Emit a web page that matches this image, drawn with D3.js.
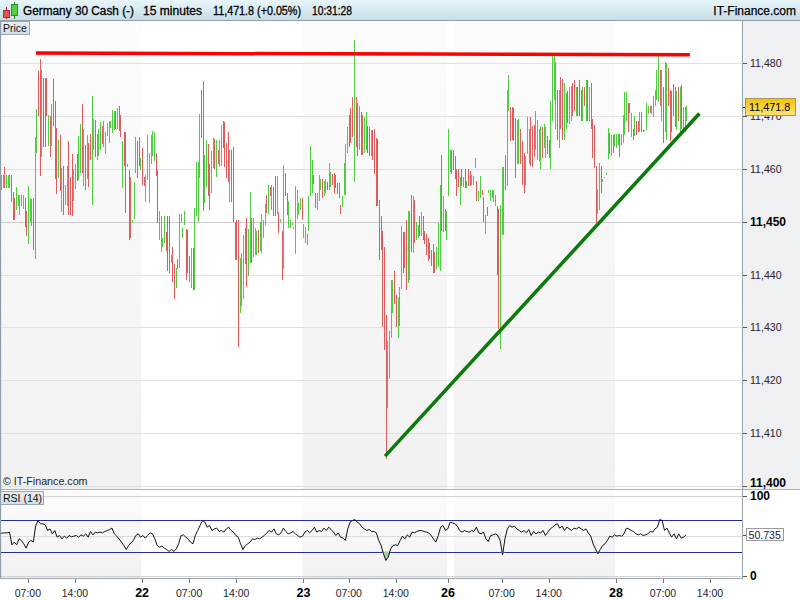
<!DOCTYPE html>
<html><head><meta charset="utf-8">
<script src="https://cdn.jsdelivr.net/npm/d3@7"></script>
<style>
html,body{margin:0;padding:0;background:#fff;}
svg{display:block;font-family:"Liberation Sans",Arial,sans-serif;}
</style></head><body>
<svg id="chart" width="800" height="600"></svg>
<script>
// ---- DATA: 15-minute candles [open, high, low, close] ----
const day21 = [
[11456.5,11458.9,11456,11458.5],[11457,11458.8,11456.3,11458],[11458.5,11460.4,11456.3,11457],[11456.5,11458.9,11456.3,11458.5],
[11456.5,11458.9,11456.3,11458.5],[11457,11458.9,11456.3,11458.5],[11458.5,11458.9,11453.7,11454],[11455,11455.6,11450.4,11451],
[11454,11454.5,11450.4,11451.5],[11452.5,11456.6,11452.2,11456],[11453.5,11455,11453,11455],[11452,11455,11451.3,11455],
[11453,11455,11453,11455],[11453,11455,11452.5,11454.5],[11454,11454.5,11449,11450],[11451.5,11452,11447.2,11448],
[11447,11456.8,11445.8,11455],[11451,11454.5,11450,11454.5],[11450.5,11454.3,11449.2,11453],[11453,11454.4,11444.7,11446],
[11446,11466,11442.9,11464],[11464,11471.4,11463,11471],[11478,11478.6,11470,11471],[11476,11480.8,11458.7,11461],
[11462.3,11478.7,11462.3,11478],[11477,11477.2,11464.2,11467],[11476,11477.2,11464.2,11466],[11477,11477.2,11470,11470],
[11465,11470.2,11464.4,11470],[11469,11470,11462.2,11463],[11464.4,11472.3,11464.4,11472],[11476,11477,11468.1,11469],
[11470,11472.9,11458,11459],[11466,11467.8,11455.3,11456.5],[11459,11465.5,11458.2,11465],[11465,11466.4,11455.9,11457],
[11453,11460.1,11451.9,11459],[11459,11460.5,11451.3,11453],[11453.5,11457,11453.2,11457],[11454,11460.5,11453,11460],
[11464,11465.2,11451.3,11453],[11457,11458.4,11451.3,11452],[11460,11462.8,11451.1,11455],[11455,11460,11454,11459],
[11457,11461,11456.2,11461],[11462,11462.8,11457.8,11458],[11458,11466.2,11457.9,11466],[11460,11468.5,11459.2,11468],
[11471,11472.3,11459.3,11461],[11458,11467.5,11456.7,11466],[11463,11464.5,11456,11457],[11459,11466.5,11458,11466],
[11464,11465,11456.5,11457],[11466,11466.7,11461.7,11462],[11462,11473.8,11453.2,11471],[11464,11469.5,11463.5,11469],
[11469,11469.3,11462.3,11465],[11463,11466.7,11461.7,11466],[11464,11467.5,11462.5,11467],[11465,11468.8,11463.6,11468],
[11468,11468.2,11464.7,11466],[11466,11469,11464.2,11469],[11464,11467,11462.9,11467],[11466.2,11468.6,11466.2,11468],
[11467,11469,11465,11469],[11468,11469,11467.8,11469],[11467,11471.2,11466.8,11471],[11468,11471,11467.4,11471],
[11471,11471,11467.6,11468],[11468,11471.5,11467.6,11471.5],[11471.5,11471.9,11467.2,11468],[11469.5,11470.2,11466,11466],
[11458,11465.2,11456.3,11465],[11467,11467,11460.6,11461],[11466,11467,11451.6,11460],[11460.5,11461,11460.3,11461],
[11459,11459.8,11446.6,11447],[11458,11458.5,11446.9,11447.5],[11450,11450.3,11449.8,11450.2],[11451,11457.6,11450.6,11457],
[11459.5,11466,11459.2,11465],[11465,11465.2,11458.2,11459],[11466,11466.1,11460.6,11461],[11460,11462,11459.7,11462]
];
const day22 = [
[11463,11463.9,11457,11458],[11458,11458.5,11456.8,11457],[11454,11458.9,11453.7,11458],[11458,11466.4,11457.9,11466],
[11455,11463,11453.5,11462],[11462,11466.5,11461,11466],[11465,11467.1,11462.5,11467],[11465,11467,11461.5,11466.5],
[11463,11463,11458.7,11459],[11459.7,11459.7,11449.7,11450],[11447,11452.1,11446.5,11452],[11447,11451.1,11444.3,11450],
[11445.5,11447,11445.2,11447],[11446,11451,11446,11450.5],[11447,11448,11444.4,11445],[11446,11451,11440.6,11443],
[11447,11451,11440.3,11442],[11442.2,11443.7,11442.2,11443.5],[11444,11445.3,11438.5,11439],[11442,11442,11435.3,11437.5],
[11439.5,11441.2,11437.5,11441],[11443,11443,11441,11441.2],[11441.5,11451.5,11441.2,11450.5],[11449.8,11451.5,11449.8,11451.5],
[11446.9,11448.8,11446.9,11448.5],[11449.3,11452,11449.3,11451.5],[11448,11448.6,11439,11440],[11447,11448.5,11440.3,11441],
[11443.5,11443.5,11438.6,11440],[11438,11445,11437.5,11444],[11444,11445,11437,11438],[11438,11452.6,11437.1,11451],
[11451,11461.3,11451,11460],[11452,11461.3,11449.9,11460],[11459,11470.4,11458.2,11469],[11474,11475,11465.8,11466],
[11476,11476.7,11452.1,11455],[11454,11462.6,11453.5,11462],[11457,11465.5,11456.5,11465],[11464,11464.7,11454.8,11456],
[11460,11461,11452.2,11454],[11456,11463.3,11455.5,11463],[11461,11465.8,11460.1,11465],[11465,11465.6,11460,11461],
[11461,11465.5,11458.5,11465],[11463,11463.6,11461,11461.5],[11461,11465.5,11460.4,11465],[11461,11468.3,11460.6,11467],
[11468,11469,11463.9,11464.5],[11468.5,11468.8,11460.3,11462],[11464,11464.9,11458.2,11458.5],[11466,11467,11457.6,11458],
[11455,11463.6,11453.8,11459.5],[11461,11463.6,11453.8,11455],[11457,11464.2,11450,11451],[11449.5,11449.9,11442.7,11443],
[11449,11450.4,11442.7,11443.5],[11450,11450.4,11426.3,11440],[11433,11443.1,11432.8,11442.5],[11435,11444,11434,11443],
[11437,11447.5,11435.3,11447],[11448,11448.8,11441.9,11442.5],[11450,11450.7,11437.6,11439],[11440,11448.7,11439.8,11448.5],
[11443,11455.6,11442.2,11450],[11450,11450.7,11442.2,11443],[11444,11450.7,11443.3,11450],[11445,11448.9,11443.6,11448.5],
[11445,11448.2,11443.6,11448],[11448,11448.5,11444,11444.5],[11445,11450,11444.5,11449.5],[11444,11451.4,11444,11451],
[11447,11450.3,11446.9,11450],[11450,11453.3,11449.3,11453],[11454.5,11455,11451.6,11452],[11451.5,11457,11451.5,11456],
[11456.5,11456.6,11454.9,11455],[11452.3,11457,11452.3,11456],[11456,11456.6,11451.1,11452],[11458,11458.7,11451.1,11453],
[11452,11458.7,11451.5,11458],[11451.5,11451.9,11447.8,11448],[11450,11450.6,11449.9,11450.5],[11448,11448.2,11438.9,11442],
[11447,11460.8,11441,11459],[11459,11459.2,11454.8,11455],[11455,11455.5,11451.3,11452],[11449,11454,11448.8,11453],
[11449,11450.4,11448.8,11450],[11449.5,11449.8,11449.4,11449.7],[11448.7,11449,11448.6,11449],[11446,11456.7,11443.9,11455],
[11450.5,11456,11450.5,11455.5],[11451.5,11453.5,11451.3,11453],[11453,11454.5,11452.3,11454.3],[11454.5,11454.5,11450.4,11451]
];
const day23 = [
[11447,11449.5,11447,11449],[11446,11449,11446,11448.5],[11445.6,11447.7,11445.6,11447.3],[11448.5,11454.9,11448.2,11454],
[11455,11464.4,11454.9,11464],[11457,11461.6,11455.5,11461],[11458,11458.9,11457.2,11457.5],[11455.5,11455.5,11452.6,11453],
[11452.5,11455.5,11452.2,11455],[11455,11458.9,11454,11458],[11456,11458.1,11456,11458],[11458,11458.1,11454.5,11455],
[11454.8,11457.7,11454.8,11457.5],[11456,11458.1,11455.5,11458],[11457.5,11457.6,11456,11456.5],[11456,11461.2,11456,11461],
[11457,11459.5,11456.5,11459],[11459,11459,11456.9,11457],[11459,11459.3,11455.4,11456],[11458,11458.9,11456.4,11456.5],
[11457,11457.4,11455.3,11455.5],[11457,11457.3,11454.5,11455],[11453,11453.1,11451.5,11451.6],[11452.7,11454.8,11452.7,11454.6],
[11455.5,11461.2,11455.1,11460],[11456,11464.7,11455.1,11464],[11463,11467.9,11463,11467.5],[11470,11470.2,11464.2,11465],
[11471,11471.5,11464.9,11466],[11472,11473.6,11466,11467],[11466,11484.4,11457.6,11472],[11473,11473.6,11464.1,11465],
[11472.5,11472.5,11462.5,11463],[11464,11471.9,11463.6,11471],[11470.5,11470.8,11462.6,11463],[11470,11470.2,11462.6,11463.5],
[11463,11469.9,11463,11469],[11464,11470.7,11463.6,11470.5],[11468,11468.2,11463.1,11464],[11468,11468,11462.4,11463],
[11462.5,11467.3,11462.5,11467],[11467,11467.3,11461.6,11462],[11467,11467.5,11459,11460],[11465.5,11465.8,11453,11459],
[11462,11465.6,11453,11454],[11454,11454.1,11442.7,11444],[11450,11451,11444.6,11446],[11446,11448.2,11430.1,11432],
[11445,11445.3,11425.7,11428],[11430,11432.3,11405.1,11420],[11418,11427.5,11414.8,11427],[11420.2,11429.3,11420.2,11429],
[11428,11438.9,11427.9,11438],[11433,11439,11432.7,11438.5],[11440,11440.6,11434.5,11435],[11436,11436.2,11430,11432],
[11428.5,11435.8,11428,11434],[11430.2,11437.6,11430.2,11437],[11437.5,11449.2,11437.3,11448],[11447.5,11448,11440.2,11441],
[11448,11448.1,11441.3,11442],[11448,11450.4,11437,11438],[11441,11452,11438.3,11451],[11443,11452,11439,11451.5],
[11453,11455,11444.3,11446],[11447,11454.9,11444,11454],[11453.5,11454.1,11445.9,11446.5],[11447,11450,11446.5,11449.5],
[11447.5,11449.4,11447,11449],[11450.5,11451,11447.3,11448],[11448,11451.9,11447.3,11451.5],[11450,11451,11446.5,11447],
[11448,11448.2,11445.8,11446],[11447,11447.7,11443.6,11444],[11447,11447,11442.5,11443],[11445,11446,11442.9,11443.5],
[11444,11444.6,11441.7,11442],[11445,11445.7,11440.3,11441],[11443,11444.2,11440.2,11440.5],[11441,11445.2,11441,11445],
[11442,11449.8,11441.5,11449],[11442,11456.9,11440.7,11455],[11458,11462.6,11448.2,11453],[11450,11454.9,11448,11453],
[11452,11452.5,11448.2,11449],[11447,11452,11446.5,11451]
];
const day26 = [
[11455,11467.5,11454.8,11466],[11462.5,11463.5,11459.5,11463],[11463,11463.5,11459,11460],[11463.5,11463.5,11459.7,11460],
[11462,11462.5,11458,11459],[11459.5,11460,11454.8,11456],[11459.5,11460,11456.5,11457],[11454,11458.5,11453.2,11458],
[11460,11460,11456.7,11457],[11456.7,11458.5,11456.5,11458.5],[11459.5,11460,11456.4,11457],[11456.5,11457.8,11456.3,11457.5],
[11460,11460,11456.7,11457],[11459,11459.6,11456.7,11457],[11457,11458.9,11457,11458.7],[11457,11458.7,11457,11458.5],
[11460.1,11462,11460.1,11462],[11457,11457.7,11454,11454.5],[11454,11455.9,11454,11455.8],[11455.5,11458.7,11454.5,11458.5],
[11456,11456,11455,11455.2],[11454.5,11454.7,11449.9,11450.5],[11447.7,11451.3,11447.7,11451],[11452,11452.8,11451,11451.2],
[11455.5,11456,11455.4,11455.8],[11454,11456,11454,11455.8],[11454.5,11456,11454.5,11455.5],[11454,11456,11453.8,11455.8],
[11453,11455,11453,11454.5],[11453,11453,11440,11441],[11445,11452.5,11429.7,11432],[11430,11453.1,11425.8,11452],
[11449,11460.4,11447.4,11458],[11450,11460.4,11447.4,11459],[11462,11462.6,11456,11457],[11457,11475,11456.7,11474],
[11472,11477.8,11471,11477],[11471.5,11471.8,11465.2,11466],[11471,11471.8,11465.5,11466],[11471,11471.5,11465.2,11466],
[11469,11469.6,11458.2,11460],[11461,11469.3,11461,11469],[11462,11469.5,11461,11468],[11467,11467.6,11461,11462],
[11465,11465.2,11457,11458],[11463,11463.1,11455.4,11456],[11457,11462.5,11456.9,11462],[11463,11469.8,11462.8,11469.5],
[11462,11467.5,11461,11467],[11469,11469.8,11460.5,11461],[11467,11468.1,11460.3,11461],[11467.5,11468.4,11462.2,11463],
[11463.6,11471,11463.6,11470.5],[11462.5,11469.3,11461.7,11467],[11462,11467.6,11461.5,11467],[11462,11468.2,11460,11467.5],
[11467,11467.9,11462,11463],[11464,11468.5,11463.9,11468.4],[11463,11468,11462,11467.5],[11466,11466.2,11462.9,11463],
[11465,11465.5,11462,11462.5],[11461,11472.9,11460,11472],[11473,11481.9,11469,11480],[11473.1,11481.9,11473.1,11481.5],
[11470,11480.3,11467.5,11479],[11475,11475,11465.5,11467],[11464,11475,11464,11474.5],[11477,11477.5,11467.5,11468],
[11476,11477,11465.5,11466],[11466,11476.3,11465.5,11476],[11468,11474.4,11467.6,11474],[11474.5,11474.8,11468.6,11469],
[11469,11475.5,11468.5,11475],[11469,11475.7,11469,11475],[11476,11476.3,11470,11470.5],[11476.5,11476.8,11471,11472],
[11471,11475.5,11470,11475.3],[11475,11475.5,11470,11471],[11476.5,11476.8,11470,11471],[11475,11475,11469,11470],
[11470,11475.5,11469,11475],[11475.5,11475.5,11472,11473],[11470,11476.8,11469,11476.5],[11476.5,11476.8,11469,11470],
[11469.5,11475.5,11469,11475],[11475.5,11476.2,11467.5,11468],[11469,11469.5,11462,11463],[11467.5,11468.4,11460.2,11461],
[11460.5,11460.5,11449.7,11451],[11452,11456.2,11451.5,11455.5],[11453,11461.2,11452.2,11460],[11460,11460.6,11455.4,11456],
[11457.5,11458,11457.5,11458],[11458.3,11458.5,11458.2,11458.4],[11459,11459.3,11458.8,11459.2],[11462,11467.7,11461.8,11467],
[11466.5,11466.8,11462.9,11463.5],[11463,11466.5,11462.5,11466],[11466.5,11466.5,11463,11463.5],[11464.3,11466.6,11464.3,11466]
];
const day28 = [
[11464,11466.6,11464,11466],[11465,11466.6,11464.6,11466.5],[11466,11466.6,11462.3,11463],[11464.5,11466.6,11464.5,11466.5],
[11466,11470.3,11465,11470],[11467,11474.6,11466.5,11474],[11469.5,11474.6,11469,11474],[11472,11472.5,11467,11468],
[11472,11472.5,11470.5,11470.7],[11467,11470.5,11466,11470],[11467.5,11467.5,11465.4,11465.5],[11467,11470,11466.2,11469.5],
[11469,11469,11466.5,11467],[11469,11469,11467,11467.3],[11467,11470.7,11467,11470.5],[11470.5,11470.7,11467,11467.2],
[11467.4,11467.4,11467,11467.1],[11467.3,11467.4,11467.2,11467.35],[11467.5,11472.5,11467.4,11472],[11470.5,11472,11470.4,11471.8],
[11472,11472,11470.5,11470.6],[11470.5,11472,11470.4,11471.9],[11470,11473.8,11469.8,11473.5],[11472,11475,11472,11474.8],
[11474,11478.8,11473,11478.5],[11473,11481.6,11472.6,11481],[11478.8,11478.8,11472,11472.5],[11471,11478.7,11469,11478.5],
[11475.5,11475.6,11465,11466],[11468,11480.2,11467,11480],[11470,11480,11465.5,11479.5],[11479,11479.1,11472,11473],
[11475,11475,11465.2,11466],[11474.7,11474.7,11467,11468],[11476,11476,11470,11471],[11475.5,11475.5,11468,11469],
[11467.3,11474.8,11467.3,11474.5],[11475.5,11475.5,11469,11470],[11467.5,11475.5,11467,11475],[11475.8,11475.8,11467.5,11468],
[11468,11471.7,11467.5,11471.5],[11468,11471.7,11467,11471.5],[11470,11471.9,11469,11471.8]
];

// RSI (14), evenly spaced from the first candle to the last
const rsiValues = [
52.9,52.9,53.3,53.3,54.2,38.3,41.7,38.3,45.8,43.75,39.6,34.2,41.7,43.75,42,62.5,68.75,64.6,64.6,63.3,
56.25,58.3,52.1,56.25,47.9,50,45.8,49.2,46.7,50,48.3,49.2,50,47.9,50.8,49.2,52.1,47.9,55,50.8,
54.2,53.3,54.2,53.3,55,56.25,57.5,59.2,52.1,49.2,45.8,41.7,37.5,32.5,37.5,40.8,43.75,50,52.1,47.9,
50,46.7,50,53.3,52.1,45.8,37.5,35.4,36.7,34.2,32.5,30,32.5,30,33.3,39.6,50,50.8,47.9,45.8,
41.7,39.6,50,56.25,62.5,68.75,66.7,60.4,62.5,56.25,58.3,59.2,55,56.25,54.2,58.3,60.4,56.25,54.2,50,
47.9,39.6,32.5,37.5,39.6,41.7,45.8,45,46.7,45.8,47.9,50,53.3,56.25,54.2,58.3,52.1,50.8,53.3,59.2,
55,52.1,53.3,55,52.1,50,47.9,49.2,54.2,56.25,53.3,56.25,60.4,54.2,56.25,55,59.2,56.25,60.4,57.5,
54.2,50,53.3,47.9,46.7,43.75,58.3,66.7,68.75,70,66.7,64.6,60.4,58.3,56.25,57.5,55,55,53.3,43.75,
37.5,27.1,18.75,22.9,33.3,37.5,38.3,37.5,43.75,49.2,45.8,50.8,47.9,54.2,53.3,55,56.25,56.25,55,54.2,
53.3,50,45.8,41.7,50,60.4,62.5,56.25,58.3,66.7,65.8,64.6,61.7,56.25,54.2,56.25,55,54.2,56.25,55,
60.4,53.3,52.1,54.2,45.8,42.5,50,50.8,52.1,50,43.75,25.8,45.8,58.3,62.5,60.4,61.7,58.3,56.25,54.2,
56.25,53.3,57.5,50,55,52.1,54.2,53.3,56.25,50,54.2,58.3,60.4,63.3,64.6,59.2,61.7,56.25,60.4,58.3,
56.25,59.2,58.3,60.4,58.3,56.25,58.3,53.3,49.2,39.6,33.3,27.1,32.5,37.5,39.6,43.75,49.2,47.9,50.8,49.2,
50,49.2,52.1,59.2,58.3,56.25,55,52.1,50.8,52.1,50,50.8,52.1,55,54.2,58.3,60.4,70,68.75,56.25,
59.2,53.3,47.9,52.1,45.8,52.1,46.7,47.9,50.735
];

// time axis: candle index of each tick, its label, and whether it is a date label
const tickIndex  = [16, 44, 84, 112, 140, 180, 207, 235, 266, 298, 326, 366, 394, 422];
const tickLabels = ["07:00","14:00","22","07:00","14:00","23","07:00","14:00","26","07:00","14:00","28","07:00","14:00"];
const tickIsDate = [false,false,true,false,false,true,false,false,true,false,false,true,false,false];
// alternating day background: [first index, end index)
const shadedDays = [[0,84],[180,266],[270,366]];
// price axis
const priceTicks = [11400,11410,11420,11430,11440,11450,11460,11470,11480];
const priceTickLabels = ["11,400","11,410","11,420","11,430","11,440","11,450","11,460","11,470","11,480"];
const priceBold = [11400, 11450];
// drawn trend lines: [candle index, price]
const resistanceLine = [[20.8, 11481.95],[410, 11481.6]];
const supportLine = [[228.6, 11405.6],[415.7, 11470.5]];
const lastPrice = 11471.8, lastPriceLabel = "11,471.8";
const rsiLastLabel = "50.735", rsiLastValue = 50.735;
const rsiLevels = [30, 70];
const titleParts = ["Germany 30 Cash (-)", "15 minutes", "11,471.8 (+0.05%)", "10:31:28"];

// ---- DRAW ----
const candles = [].concat(day21, day22, day23, day26, day28);
const svg = d3.select("#chart");
const defs = svg.append("defs");
function vgrad(id, c0, c1){
  const g = defs.append("linearGradient").attr("id",id).attr("x1",0).attr("y1",0).attr("x2",0).attr("y2",1);
  g.append("stop").attr("offset","0%").attr("stop-color",c0);
  g.append("stop").attr("offset","100%").attr("stop-color",c1);
}
vgrad("titleGrad","#e8f6fb","#c7dde6");
vgrad("shadeGrad","#fcfcfc","#f1f1f1");
vgrad("yellowGrad","#f2c200","#ffe37a");
vgrad("boxGrad","#e9eef2","#d4dde4");
defs.append("clipPath").attr("id","mainClip").append("rect").attr("x",1).attr("y",21).attr("width",741).attr("height",468);
defs.append("clipPath").attr("id","rsiClip").append("rect").attr("x",1).attr("y",491).attr("width",741).attr("height",87);

const x = d3.scaleLinear().domain([0, 422]).range([1, 710]);
const y = d3.scaleLinear().domain([11400, 11480]).range([485.7, 63.3]);
const yr = d3.scaleLinear().domain([0, 100]).range([575.5, 495.5]);
const xr = d3.scaleLinear().domain([0, rsiValues.length - 1]).range([x(0) - 1, x(candles.length - 1) - 0.5]);

svg.append("rect").attr("width",800).attr("height",600).attr("fill","#fff");

// day shading (main + rsi)
[[21,489],[491,578]].forEach(([t,b])=>{
  svg.append("g").selectAll("rect").data(shadedDays).join("rect")
    .attr("x", d=>Math.max(1, x(d[0]-0.5))).attr("width", d=>x(d[1]-0.5)-Math.max(1, x(d[0]-0.5)))
    .attr("y", t).attr("height", b-t).attr("fill","url(#shadeGrad)");
});

// price grid
svg.append("g").selectAll("line").data(priceTicks).join("line")
  .attr("x1",1).attr("x2",742).attr("y1",d=>Math.round(y(d))+0.5).attr("y2",d=>Math.round(y(d))+0.5)
  .attr("stroke", d=>d===11450?"#cdcdcd":"#e1e1e1").attr("stroke-width",1);

// candles
const gC = svg.append("g").attr("clip-path","url(#mainClip)").attr("shape-rendering","crispEdges");
const colorOf = d => d[3] >= d[0] ? "#50cc42" : "#e05c5c";
gC.selectAll("line").data(candles).join("line")
  .attr("x1",(d,i)=>Math.round(x(i))+0.5).attr("x2",(d,i)=>Math.round(x(i))+0.5)
  .attr("y1",d=>y(d[1])).attr("y2",d=>Math.max(y(d[2]), y(d[1])+1))
  .attr("stroke",colorOf).attr("stroke-width",1);
gC.selectAll("rect").data(candles).join("rect")
  .attr("x",(d,i)=>Math.round(x(i))).attr("width",1)
  .attr("y",d=>y(Math.max(d[0],d[3]))).attr("height",d=>Math.max(1, Math.abs(y(d[0])-y(d[3]))))
  .attr("fill",colorOf);

// trend lines
const tl = d3.line().x(d=>x(d[0])).y(d=>y(d[1]));
const gT = svg.append("g").attr("clip-path","url(#mainClip)");
gT.append("path").attr("d", tl(resistanceLine)).attr("stroke","#ff0000").attr("stroke-width",3.5).attr("fill","none");
gT.append("path").attr("d", tl(supportLine)).attr("stroke","#0a7a0a").attr("stroke-width",3.5).attr("fill","none");

// labels in main panel
svg.append("text").attr("x",3).attr("y",485).attr("font-size",10.7).attr("fill","#222").text("© IT-Finance.com");
svg.append("rect").attr("x",0.5).attr("y",21.5).attr("width",29).attr("height",13).attr("fill","url(#boxGrad)").attr("stroke","#9aa8b2");
svg.append("text").attr("x",3).attr("y",31.5).attr("font-size",10.5).attr("fill","#111").text("Price");

// right price axis
svg.append("rect").attr("x",742).attr("y",21).attr("width",58).attr("height",468).attr("fill","#eef0f2");
const gA = svg.append("g");
gA.selectAll("line").data(priceTicks).join("line")
  .attr("x1",742).attr("x2",747).attr("y1",d=>Math.round(y(d))+0.5).attr("y2",d=>Math.round(y(d))+0.5)
  .attr("stroke","#555");
gA.selectAll("text").data(priceTicks).join("text")
  .attr("x",750).attr("y",d=>Math.min(y(d)+4, 486.5))
  .attr("font-size",d=>priceBold.includes(d)?12:10.6)
  .attr("font-weight",d=>priceBold.includes(d)?"bold":"normal")
  .attr("fill",d=>priceBold.includes(d)?"#000":"#2a2438")
  .text((d,i)=>priceTickLabels[i]);
// last price marker
const yl = y(lastPrice);
svg.append("line").attr("x1",742).attr("x2",746).attr("y1",Math.round(yl)+0.5).attr("y2",Math.round(yl)+0.5).attr("stroke","#000");
svg.append("rect").attr("x",745.5).attr("y",Math.round(yl)-8.5).attr("width",50).attr("height",17)
  .attr("fill","url(#yellowGrad)").attr("stroke","#a8955a");
svg.append("text").attr("x",749).attr("y",yl+4).attr("font-size",10.8).attr("fill","#000").text(lastPriceLabel);

// panel separator
svg.append("line").attr("x1",0).attr("x2",800).attr("y1",489.5).attr("y2",489.5).attr("stroke","#a9b4bc");

// ---- RSI ----
const gR = svg.append("g");
[[0,"#d2d2d2"],[50,"#dcdcdc"],[100,"#d2d2d2"]].forEach(([v,c])=>{
  gR.append("line").attr("x1",1).attr("x2",742).attr("y1",Math.round(yr(v))+0.5).attr("y2",Math.round(yr(v))+0.5).attr("stroke",c);
});
rsiLevels.forEach(v=>{
  gR.append("line").attr("x1",1).attr("x2",742).attr("y1",Math.round(yr(v))+0.5).attr("y2",Math.round(yr(v))+0.5).attr("stroke","#2b2ba0");
});
const gRc = svg.append("g").attr("clip-path","url(#rsiClip)");
gRc.append("path").datum(rsiValues)
  .attr("d", d3.area().x((d,i)=>xr(i)).y0(yr(30)).y1(d=>yr(Math.min(d,30))))
  .attr("fill","#9fcf9f");
gRc.append("path").datum(rsiValues)
  .attr("d", d3.line().x((d,i)=>xr(i)).y(d=>yr(d)))
  .attr("fill","none").attr("stroke","#111").attr("stroke-width",1);
svg.append("rect").attr("x",0.5).attr("y",491.5).attr("width",43).attr("height",13).attr("fill","url(#boxGrad)").attr("stroke","#9aa8b2");
svg.append("text").attr("x",3).attr("y",502).attr("font-size",10.5).attr("fill","#111").text("RSI (14)");
// rsi right axis
[[100,"100"],[0,"0"]].forEach(([v,t])=>{
  svg.append("line").attr("x1",742).attr("x2",747).attr("y1",Math.round(yr(v))+0.5).attr("y2",Math.round(yr(v))+0.5).attr("stroke","#555");
  svg.append("text").attr("x",750).attr("y",yr(v)+4.5).attr("font-size",12).attr("font-weight","bold").attr("fill","#000").text(t);
});
const yrl = yr(rsiLastValue);
svg.append("line").attr("x1",742).attr("x2",746).attr("y1",Math.round(yrl)+0.5).attr("y2",Math.round(yrl)+0.5).attr("stroke","#555");
svg.append("rect").attr("x",746.5).attr("y",Math.round(yrl)-6.5).attr("width",37).attr("height",12).attr("fill","#fff").attr("stroke","#999");
svg.append("text").attr("x",748.5).attr("y",yrl+3.8).attr("font-size",10.6).attr("fill","#2a2438").text(rsiLastLabel);

// ---- X axis ----
svg.append("line").attr("x1",0).attr("x2",743).attr("y1",578.5).attr("y2",578.5).attr("stroke","#9aa4ac");
svg.append("line").attr("x1",742.5).attr("x2",742.5).attr("y1",20).attr("y2",578).attr("stroke","#9aa4ac");
const gX = svg.append("g");
gX.selectAll("line").data(tickIndex).join("line")
  .attr("x1",d=>Math.round(x(d))+0.5).attr("x2",d=>Math.round(x(d))+0.5).attr("y1",579).attr("y2",583).attr("stroke","#777");
gX.selectAll("text").data(tickIndex).join("text")
  .attr("x",d=>x(d)).attr("y",597).attr("text-anchor","middle")
  .attr("font-size",(d,i)=>tickIsDate[i]?12.5:10.5)
  .attr("font-weight",(d,i)=>tickIsDate[i]?"bold":"normal")
  .attr("fill",(d,i)=>tickIsDate[i]?"#000":"#1e1e30")
  .text((d,i)=>tickLabels[i]);

// left border
svg.append("line").attr("x1",0.5).attr("x2",0.5).attr("y1",20).attr("y2",578).attr("stroke","#8d9ca7").attr("stroke-width",1.2);

// ---- Title bar ----
svg.append("rect").attr("x",0).attr("y",0).attr("width",800).attr("height",20).attr("fill","url(#titleGrad)");
svg.append("line").attr("x1",0).attr("x2",800).attr("y1",20.5).attr("y2",20.5).attr("stroke","#8e9fab");
const ic = svg.append("g");
ic.append("line").attr("x1",6.5).attr("x2",6.5).attr("y1",7).attr("y2",19).attr("stroke","#a03030");
ic.append("rect").attr("x",3.5).attr("y",10.5).attr("width",6).attr("height",7).attr("fill","#e05555").attr("stroke","#a03030");
ic.append("line").attr("x1",14.5).attr("x2",14.5).attr("y1",2).attr("y2",19).attr("stroke","#2f8f25");
ic.append("rect").attr("x",11.5).attr("y",4.5).attr("width",6).attr("height",11).attr("fill","#55d045").attr("stroke","#2f8f25");
const titleX = [23, 143, 213, 312], titleW = [111, 59, 88, 40];
svg.append("g").selectAll("text").data(titleParts).join("text")
  .attr("x",(d,i)=>titleX[i]).attr("y",15).attr("font-size",12).attr("fill","#000")
  .attr("textLength",(d,i)=>titleW[i]).attr("lengthAdjust","spacingAndGlyphs")
  .attr("stroke","#000").attr("stroke-width",0.3).text(d=>d);
svg.append("text").attr("x",796).attr("y",15).attr("text-anchor","end").attr("font-size",12).attr("fill","#000")
  .attr("stroke","#000").attr("stroke-width",0.25).text("IT-Finance.com");
</script>
</body></html>
